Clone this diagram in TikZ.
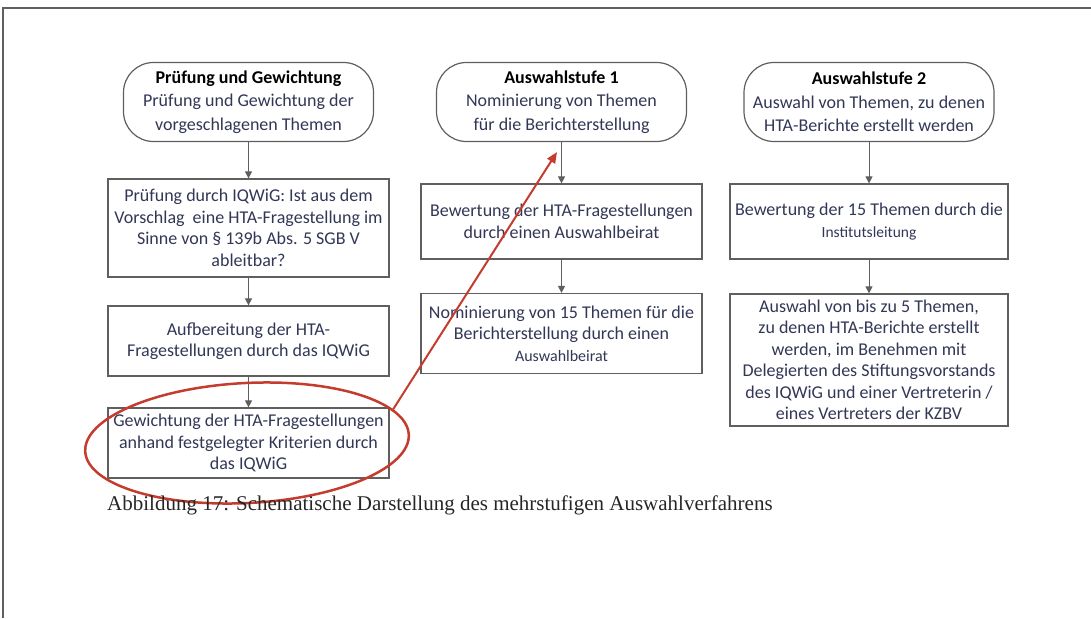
\documentclass[tikz,border=0pt]{standalone}
\usepackage{fontspec}
\setmainfont{Carlito}
\newfontfamily\captionfont{Liberation Serif}
\usetikzlibrary{arrows.meta,shapes.geometric}

\definecolor{textblau}{RGB}{50,55,85}
\definecolor{rahmengrau}{RGB}{95,95,95}
\definecolor{markrot}{RGB}{196,60,45}

\tikzset{
  kasten/.style={draw=rahmengrau, line width=1.2pt, fill=white, text=textblau,
    align=center, font=\fontsize{18}{21.5}\selectfont, inner sep=1pt},
  stufe/.style={kasten, font=\fontsize{18}{23.5}\selectfont, rounded corners=30pt, minimum width=250pt, minimum height=79pt},
}

\begin{document}
\begin{tikzpicture}[x=1pt,y=-1pt]
			\useasboundingbox (0,0) rectangle (1091,618);
			
			% Seitenrahmen
			\draw[rahmengrau, line width=1.5pt] (1091,8) -- (3,8) -- (3,618);
			
			% Stufen oben
			\node[stufe] (t1) at (248.5,102) {\textcolor{black}{\textbf{Prüfung und Gewichtung}}\\Prüfung und Gewichtung der\\vorgeschlagenen Themen};
			\node[stufe] (t2) at (561.5,102) {\textcolor{black}{\textbf{Auswahlstufe 1}}\\Nominierung von Themen\\für die Berichterstellung};
			\node[stufe] (t3) at (869,102) {\textcolor{black}{\textbf{Auswahlstufe 2}}\\Auswahl von Themen, zu denen\\HTA-Berichte erstellt werden};
			
			% Spalte 1
			\node[kasten, minimum width=281pt, minimum height=98pt] (b11) at (248.5,228) {Prüfung durch IQWiG: Ist aus dem\\Vorschlag \ eine HTA-Fragestellung im\\Sinne von § 139b Abs. 5 SGB V\\ableitbar?};
			\node[kasten, minimum width=281pt, minimum height=70pt] (b12) at (248.5,341) {Aufbereitung der HTA-\\Fragestellungen durch das IQWiG};
			\node[kasten, minimum width=281pt, minimum height=70pt] (b13) at (248.5,443) {Gewichtung der HTA-Fragestellungen\\anhand festgelegter Kriterien durch\\das IQWiG};
			
			% Spalte 2
			\node[kasten, minimum width=281pt, minimum height=75pt] (b21) at (561.5,221.5) {Bewertung der HTA-Fragestellungen\\durch einen Auswahlbeirat};
			\node[kasten, minimum width=281pt, minimum height=80pt] (b22) at (561.5,333.5) {Nominierung von 15 Themen für die\\Berichterstellung durch einen\\{\fontsize{16}{21.5}\selectfont Auswahlbeirat}};
			
			% Spalte 3
			\node[kasten, minimum width=278pt, minimum height=75pt] (b31) at (869,221.5) {Bewertung der 15 Themen durch die\\{\fontsize{15.5}{21.5}\selectfont Institutsleitung}};
			\node[kasten, minimum width=278pt, minimum height=132pt] (b32) at (869,360) {Auswahl von bis zu 5 Themen,\\zu denen HTA-Berichte erstellt\\werden, im Benehmen mit\\Delegierten des Stiftungsvorstands\\des IQWiG und einer Vertreterin /\\eines Vertreters der KZBV};
			
			% Pfeile
			\begin{scope}[>={Triangle[length=7pt,width=7pt]}, rahmengrau, line width=1pt]
				\draw[->] (t1) -- (b11);
				\draw[->] (b11) -- (b12);
				\draw[->] (b12) -- (b13);
				\draw[->] (t2) -- (b21);
				\draw[->] (b21) -- (b22);
				\draw[->] (t3) -- (b31);
				\draw[->] (b31) -- (b32);
			\end{scope}
			
			% Markierung
			\node[ellipse, draw=markrot, line width=2.5pt, minimum width=324pt, minimum height=120pt, rotate=3] (oval) at (247,443) {};
			\coordinate (ziel) at (557,152);
			\draw[markrot, line width=2pt, -{Triangle[length=11pt,width=9pt]}] (oval.10) -- (ziel);
			
			% Bildunterschrift
			\node[anchor=base west, inner sep=0pt, text=black!85, font=\captionfont\fontsize{21}{24}\selectfont] (titel) at (107,510) {Abbildung 17: Schematische Darstellung des mehrstufigen Auswahlverfahrens};
	\end{tikzpicture}
\end{document}
